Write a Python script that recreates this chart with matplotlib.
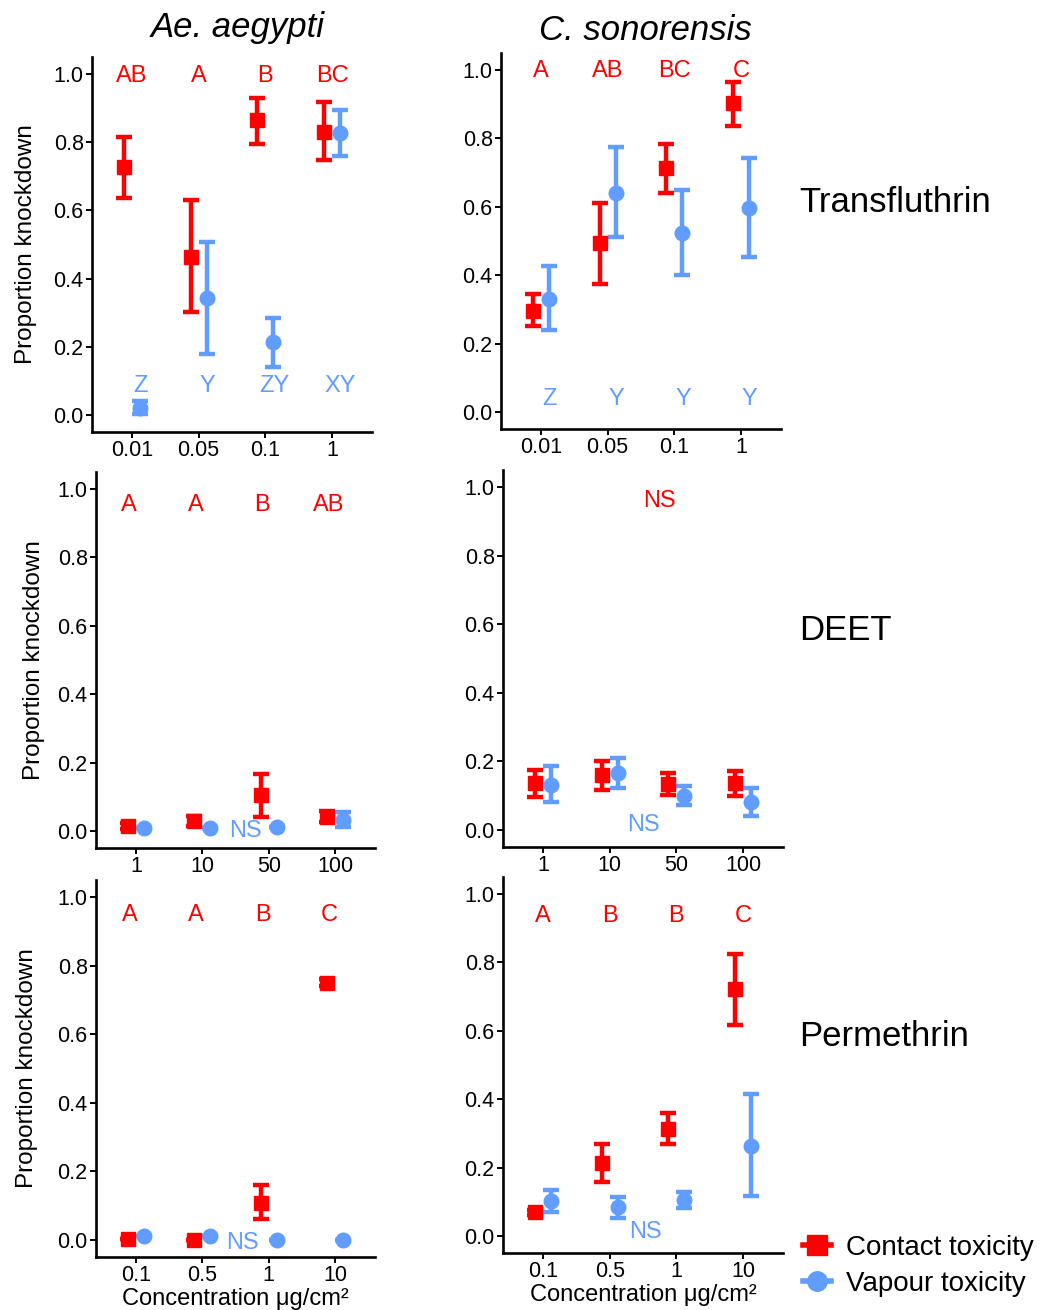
import numpy as np
import matplotlib.pyplot as plt
from matplotlib.lines import Line2D

plt.rcParams['font.family'] = ['Liberation Sans', 'DejaVu Sans']

RED = '#FF0000'
BLUE = '#619CFF'

species = ['Ae. aegypti', 'C. sonorensis']
compounds = ['Transfluthrin', 'DEET', 'Permethrin']

conc_transfluthrin = ['0.01', '0.05', '0.1', '1']
conc_deet = ['1', '10', '50', '100']
conc_permethrin = ['0.1', '0.5', '1', '10']

# Ae. aegypti - Transfluthrin
aa_tf_contact = [0.727, 0.464, 0.864, 0.831]
aa_tf_contact_lo = [0.635, 0.303, 0.795, 0.747]
aa_tf_contact_hi = [0.815, 0.632, 0.930, 0.919]
aa_tf_vapour = [0.020, 0.342, 0.213, 0.827]
aa_tf_vapour_lo = [0.003, 0.179, 0.142, 0.761]
aa_tf_vapour_hi = [0.040, 0.508, 0.284, 0.896]
aa_tf_contact_letters = ['AB', 'A', 'B', 'BC']
aa_tf_vapour_letters = ['Z', 'Y', 'ZY', 'XY']

# C. sonorensis - Transfluthrin
cs_tf_contact = [0.295, 0.493, 0.715, 0.903]
cs_tf_contact_lo = [0.250, 0.373, 0.641, 0.836]
cs_tf_contact_hi = [0.344, 0.610, 0.785, 0.966]
cs_tf_vapour = [0.331, 0.641, 0.524, 0.598]
cs_tf_vapour_lo = [0.240, 0.512, 0.400, 0.454]
cs_tf_vapour_hi = [0.427, 0.775, 0.649, 0.742]
cs_tf_contact_letters = ['A', 'AB', 'BC', 'C']
cs_tf_vapour_letters = ['Z', 'Y', 'Y', 'Y']

# Ae. aegypti - DEET
aa_deet_contact = [0.014, 0.028, 0.104, 0.041]
aa_deet_contact_lo = [0.006, 0.013, 0.041, 0.025]
aa_deet_contact_hi = [0.022, 0.044, 0.166, 0.058]
aa_deet_vapour = [0.009, 0.009, 0.010, 0.033]
aa_deet_vapour_lo = [0.009, 0.009, 0.010, 0.010]
aa_deet_vapour_hi = [0.009, 0.009, 0.010, 0.056]
aa_deet_contact_letters = ['A', 'A', 'B', 'AB']

# C. sonorensis - DEET
cs_deet_contact = [0.137, 0.159, 0.134, 0.136]
cs_deet_contact_lo = [0.097, 0.115, 0.103, 0.100]
cs_deet_contact_hi = [0.176, 0.201, 0.166, 0.171]
cs_deet_vapour = [0.132, 0.166, 0.098, 0.081]
cs_deet_vapour_lo = [0.081, 0.123, 0.073, 0.039]
cs_deet_vapour_hi = [0.186, 0.210, 0.127, 0.123]

# Ae. aegypti - Permethrin
aa_perm_contact = [0.002, 0.001, 0.108, 0.750]
aa_perm_contact_lo = [0.002, 0.001, 0.061, 0.742]
aa_perm_contact_hi = [0.002, 0.001, 0.159, 0.760]
aa_perm_vapour = [0.011, 0.011, 0.0, 0.0]
aa_perm_vapour_lo = [0.011, 0.011, 0.0, 0.0]
aa_perm_vapour_hi = [0.011, 0.011, 0.0, 0.0]
aa_perm_contact_letters = ['A', 'A', 'B', 'C']

# C. sonorensis - Permethrin
cs_perm_contact = [0.069, 0.214, 0.313, 0.722]
cs_perm_contact_lo = [0.062, 0.157, 0.268, 0.617]
cs_perm_contact_hi = [0.076, 0.269, 0.359, 0.824]
cs_perm_vapour = [0.102, 0.084, 0.105, 0.263]
cs_perm_vapour_lo = [0.071, 0.052, 0.083, 0.117]
cs_perm_vapour_hi = [0.135, 0.115, 0.128, 0.414]
cs_perm_contact_letters = ['A', 'B', 'B', 'C']

W, H = 1043, 1310
fig = plt.figure(figsize=(W / 100, H / 100), dpi=100)


def add_panel(left, right, top, bottom):
    return fig.add_axes([left / W, 1 - bottom / H, (right - left) / W, (bottom - top) / H])


def draw(ax, conc, c, c_lo, c_hi, v, v_lo, v_hi):
    x = np.arange(1, len(conc) + 1)
    off = 0.12
    c, v = np.array(c), np.array(v)
    ax.errorbar(x - off, c, yerr=[c - np.array(c_lo), np.array(c_hi) - c], fmt='s', color=RED,
                ms=9.5, elinewidth=3.2, capsize=6, capthick=3.2, zorder=3)
    ax.errorbar(x + off, v, yerr=[v - np.array(v_lo), np.array(v_hi) - v], fmt='o', color=BLUE,
                ms=10.5, elinewidth=3.2, capsize=6, capthick=3.2, zorder=3)
    ax.set_xlim(0.4, 4.6)
    ax.set_ylim(-0.05, 1.05)
    ax.set_xticks(x)
    ax.set_xticklabels(conc)
    ax.set_yticks([0, 0.2, 0.4, 0.6, 0.8, 1.0])
    ax.set_yticklabels(['0.0', '0.2', '0.4', '0.6', '0.8', '1.0'])
    for s in ['top', 'right']:
        ax.spines[s].set_visible(False)
    for s in ['left', 'bottom']:
        ax.spines[s].set_linewidth(1.9)
    ax.tick_params(labelsize=15.5, width=1.4, length=4, colors='black', pad=2)
    return x


lab = dict(fontsize=17, ha='center', va='center')
ylab = dict(fontsize=17.5)

# row 1: Transfluthrin
ax1 = add_panel(92, 372, 57, 432)
x = draw(ax1, conc_transfluthrin, aa_tf_contact, aa_tf_contact_lo, aa_tf_contact_hi,
         aa_tf_vapour, aa_tf_vapour_lo, aa_tf_vapour_hi)
for xi, t in zip(x, aa_tf_contact_letters):
    ax1.text(xi, 0.995, t, color=RED, **lab)
for xi, t in zip(x, aa_tf_vapour_letters):
    ax1.text(xi + 0.13, 0.085, t, color=BLUE, **lab)
ax1.set_ylabel('Proportion knockdown', labelpad=12, **ylab)

ax2 = add_panel(501, 781, 53, 429)
x = draw(ax2, conc_transfluthrin, cs_tf_contact, cs_tf_contact_lo, cs_tf_contact_hi,
         cs_tf_vapour, cs_tf_vapour_lo, cs_tf_vapour_hi)
for xi, t in zip(x, cs_tf_contact_letters):
    ax2.text(xi, 0.997, t, color=RED, **lab)
for xi, t in zip(x, cs_tf_vapour_letters):
    ax2.text(xi + 0.13, 0.037, t, color=BLUE, **lab)

# row 2: DEET
ax3 = add_panel(96, 375, 472, 848)
x = draw(ax3, conc_deet, aa_deet_contact, aa_deet_contact_lo, aa_deet_contact_hi,
         aa_deet_vapour, aa_deet_vapour_lo, aa_deet_vapour_hi)
for xi, t in zip(x, aa_deet_contact_letters):
    ax3.text(xi - 0.1, 0.952, t, color=RED, **lab)
ax3.text(2.65, 0.0, 'NS', color=BLUE, **lab)
ax3.set_ylabel('Proportion knockdown', labelpad=9, **ylab)

ax4 = add_panel(503, 783, 470, 847)
draw(ax4, conc_deet, cs_deet_contact, cs_deet_contact_lo, cs_deet_contact_hi,
     cs_deet_vapour, cs_deet_vapour_lo, cs_deet_vapour_hi)
ax4.text(2.74, 0.961, 'NS', color=RED, **lab)
ax4.text(2.5, 0.013, 'NS', color=BLUE, **lab)

# row 3: Permethrin
ax5 = add_panel(96, 375, 880, 1257)
x = draw(ax5, conc_permethrin, aa_perm_contact, aa_perm_contact_lo, aa_perm_contact_hi,
         aa_perm_vapour, aa_perm_vapour_lo, aa_perm_vapour_hi)
for xi, t in zip(x, aa_perm_contact_letters):
    ax5.text(xi - 0.09, 0.948, t, color=RED, **lab)
ax5.text(2.61, -0.01, 'NS', color=BLUE, **lab)
ax5.set_ylabel('Proportion knockdown', labelpad=14, **ylab)
ax5.set_xlabel('Concentration μg/cm²', fontsize=17, labelpad=1)

ax6 = add_panel(503, 783, 877, 1253)
x = draw(ax6, conc_permethrin, cs_perm_contact, cs_perm_contact_lo, cs_perm_contact_hi,
         cs_perm_vapour, cs_perm_vapour_lo, cs_perm_vapour_hi)
for xi, t in zip(x, cs_perm_contact_letters):
    ax6.text(xi, 0.937, t, color=RED, **lab)
ax6.text(2.54, 0.01, 'NS', color=BLUE, **lab)
ax6.set_xlabel('Concentration μg/cm²', fontsize=17, labelpad=1)

# column titles
fig.text(238 / W, 1 - 28 / H, species[0], fontsize=25, style='italic', ha='center', va='center')
fig.text(645 / W, 1 - 30 / H, species[1], fontsize=25, style='italic', ha='center', va='center')

# row labels
for y, name in zip([203, 630, 1037], compounds):
    fig.text(799 / W, 1 - y / H, name, fontsize=25, ha='left', va='center')

handles = [Line2D([0], [0], color=RED, marker='s', ms=14, lw=4),
           Line2D([0], [0], color=BLUE, marker='o', ms=14, lw=4)]
fig.legend(handles, ['Contact toxicity', 'Vapour toxicity'], loc='center left',
           bbox_to_anchor=(803 / W, 1 - 1266 / H), frameon=False, fontsize=20,
           handlelength=1.0, handletextpad=0.55, labelspacing=0.35, borderpad=0, borderaxespad=0)

fig.savefig('out.png', dpi=100)
